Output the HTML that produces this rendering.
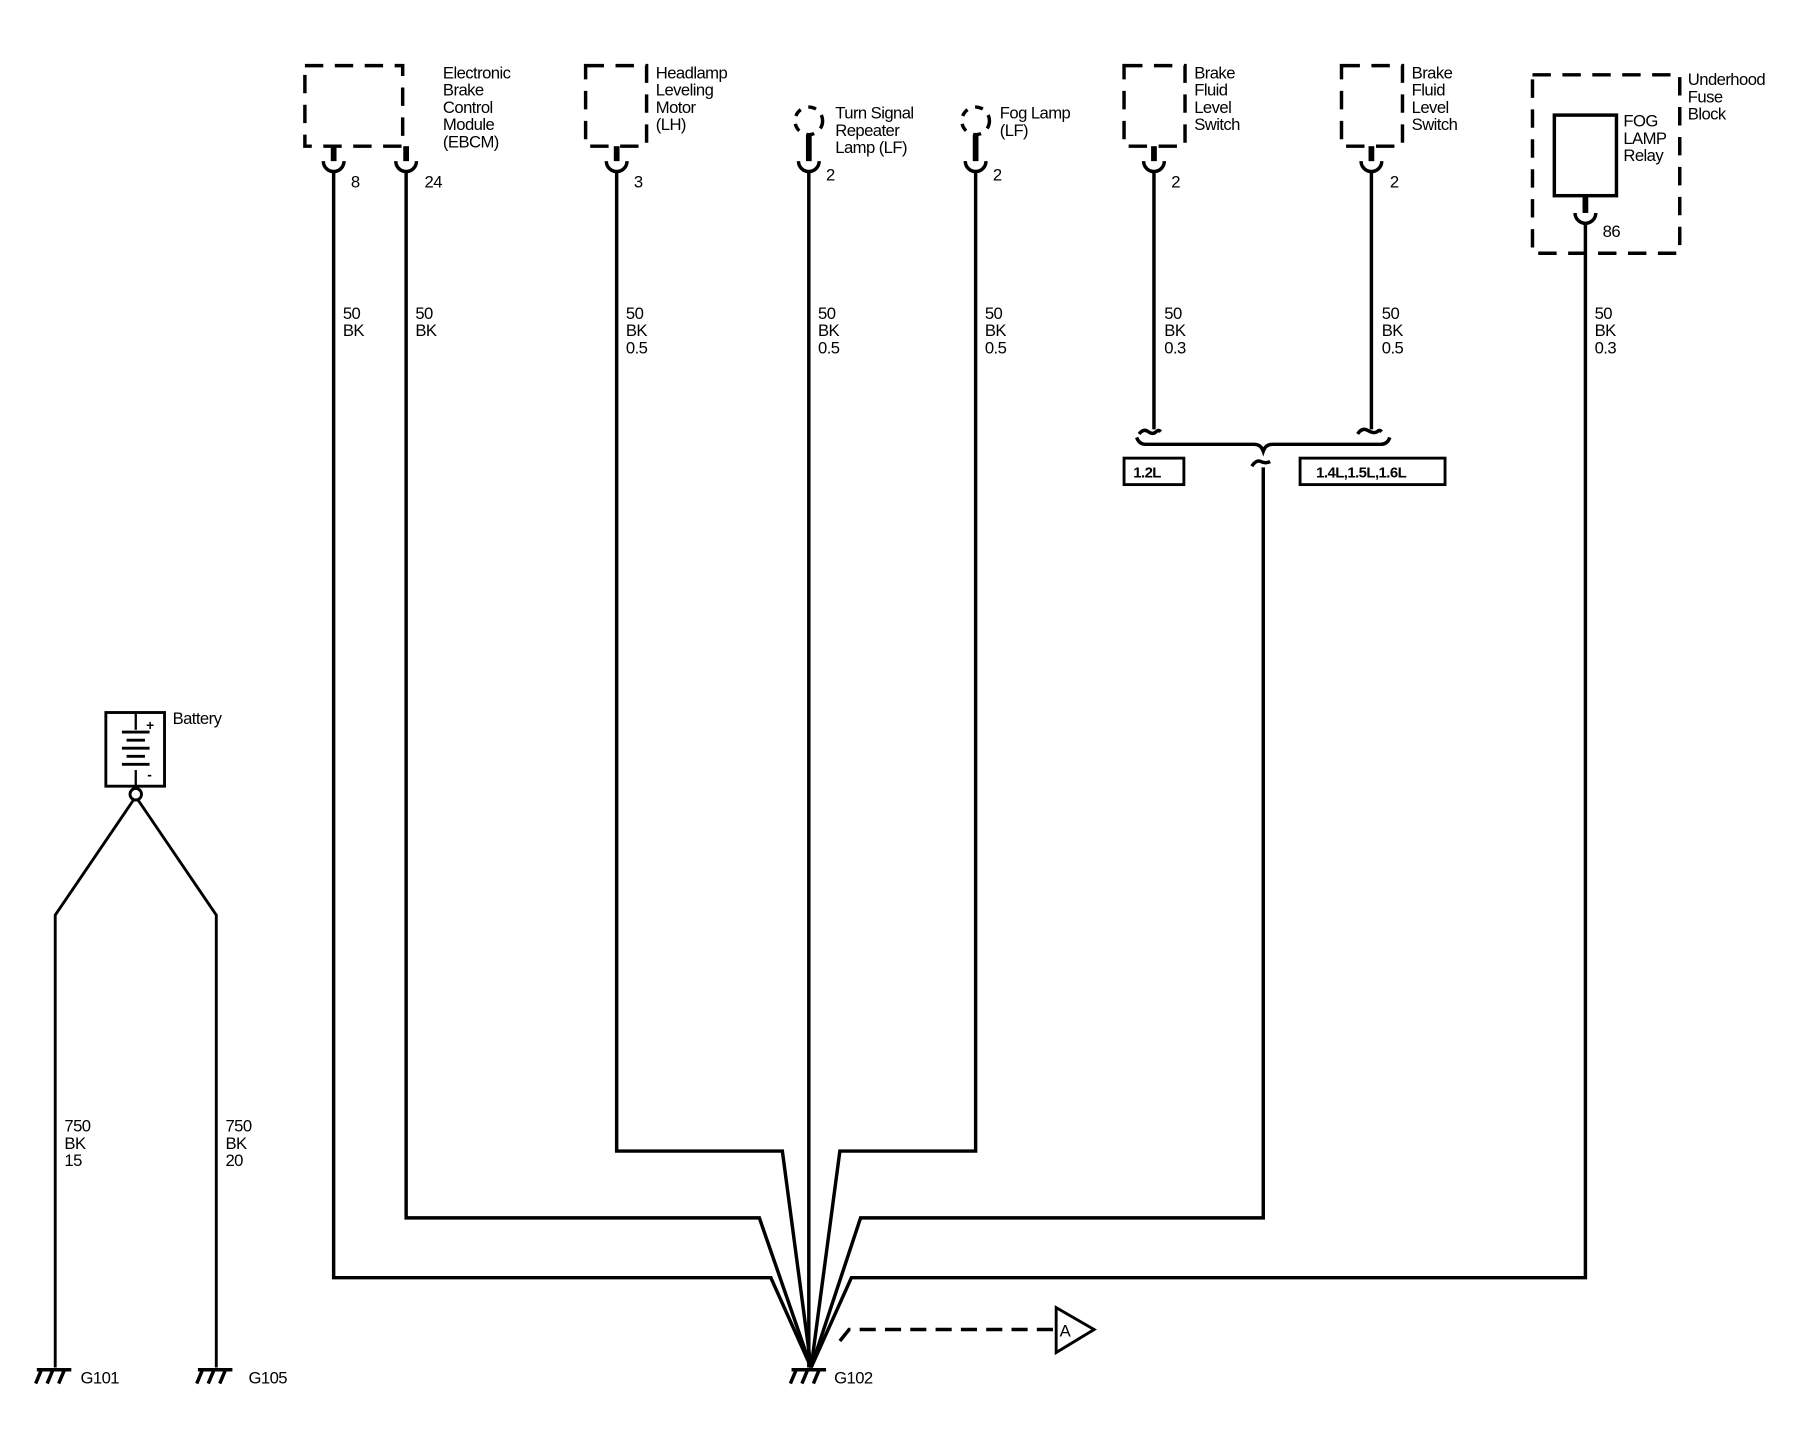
<!DOCTYPE html>
<html><head><meta charset="utf-8"><style>
html,body{margin:0;padding:0;background:#fff;}
svg{display:block;}
text{font-family:"Liberation Sans",sans-serif;font-size:14.5px;fill:#000;letter-spacing:-0.5px;}
</style></head><body>
<svg width="1804" height="1440" viewBox="0 0 1568 1251" preserveAspectRatio="none" xmlns="http://www.w3.org/2000/svg">
<g fill="none" stroke="#000" stroke-width="3">
<g stroke-dasharray="16,10" stroke-width="3">
<rect x="265" y="57" width="85" height="70"/>
<rect x="509" y="57" width="53" height="70"/>
<rect x="977" y="57" width="53" height="70"/>
<rect x="1166" y="57" width="53" height="70"/>
<rect x="1332" y="65" width="128" height="155"/>
</g>
<g stroke-dasharray="7,7" stroke-width="3">
<circle cx="703" cy="105" r="12"/>
<circle cx="848" cy="105" r="12"/>
</g>
<rect x="1351" y="100" width="54" height="70" stroke-width="3"/>
<g stroke-width="5">
<line x1="290" y1="127" x2="290" y2="140"/><line x1="353" y1="127" x2="353" y2="140"/>
<line x1="536" y1="127" x2="536" y2="140"/><line x1="703" y1="117" x2="703" y2="140"/>
<line x1="848" y1="117" x2="848" y2="140"/><line x1="1003" y1="127" x2="1003" y2="140"/>
<line x1="1192" y1="127" x2="1192" y2="140"/><line x1="1378" y1="170" x2="1378" y2="185"/>
</g>
<g stroke-width="3">
<path d="M281 140 A9 9 0 0 0 299 140"/><path d="M344 140 A9 9 0 0 0 362 140"/>
<path d="M527 140 A9 9 0 0 0 545 140"/><path d="M694 140 A9 9 0 0 0 712 140"/>
<path d="M839 140 A9 9 0 0 0 857 140"/><path d="M994 140 A9 9 0 0 0 1012 140"/>
<path d="M1183 140 A9 9 0 0 0 1201 140"/><path d="M1369 185 A9 9 0 0 0 1387 185"/>
</g>
<polyline points="290,149 290,1110 670,1110 705,1188"/>
<polyline points="353,149 353,1058 660,1058 705,1188"/>
<polyline points="536,149 536,1000 680,1000 705,1188"/>
<polyline points="703,149 703,1188"/>
<polyline points="848,149 848,1000 730,1000 705,1188"/>
<polyline points="1378,194 1378,1110 740,1110 705,1188"/>
<polyline points="1098,406 1098,1058 748,1058 705,1188"/>
<line x1="1003" y1="149" x2="1003" y2="373"/>
<line x1="1192" y1="149" x2="1192" y2="373"/>
<path d="M990 377 q4 -5 8 -2 q4 3 7 0 q2 -2 4 0"/>
<path d="M1180 377 q4 -6 9 -3 q5 3 8 1 q2 -2 4 0"/>
<path d="M988 380 q2 6 8 6 L1090 386 q6 0 8 6 q2 -6 8 -6 L1200 386 q6 0 8 -6"/>
<path d="M1088 405 q4 -6 8 -4 q4 2 8 0"/>
<rect x="977" y="398" width="52" height="23" stroke-width="2.5"/>
<rect x="1130" y="398" width="126" height="23" stroke-width="2.5"/>
<rect x="92" y="619" width="51" height="64" stroke-width="2.5"/>
<line x1="118" y1="619" x2="118" y2="634" stroke-width="2"/>
<line x1="118" y1="669" x2="118" y2="684" stroke-width="2"/>
<g stroke-width="2.5"><line x1="106" y1="636" x2="130" y2="636"/><line x1="110" y1="643" x2="126" y2="643"/><line x1="106" y1="650" x2="130" y2="650"/><line x1="110" y1="657" x2="126" y2="657"/><line x1="106" y1="664" x2="130" y2="664"/></g>
<circle cx="118" cy="690" r="5" stroke-width="2.5"/>
<polyline points="116,695 48,795 48,1188" stroke-width="2.5"/>
<polyline points="120,695 188,795 188,1188" stroke-width="2.5"/>
<g stroke-width="3">
<line x1="32" y1="1190" x2="62" y2="1190"/><line x1="36" y1="1190" x2="31" y2="1202"/><line x1="46" y1="1190" x2="41" y2="1202"/><line x1="56" y1="1190" x2="51" y2="1202"/>
<line x1="172" y1="1190" x2="202" y2="1190"/><line x1="176" y1="1190" x2="171" y2="1202"/><line x1="186" y1="1190" x2="181" y2="1202"/><line x1="196" y1="1190" x2="191" y2="1202"/>
<line x1="688" y1="1190" x2="718" y2="1190"/><line x1="692" y1="1190" x2="687" y2="1202"/><line x1="702" y1="1190" x2="697" y2="1202"/><line x1="712" y1="1190" x2="707" y2="1202"/>
</g>
<polyline points="730,1165 738,1155 918,1155" stroke-dasharray="14,8"/>
<polygon points="918,1136 918,1175 951,1155" stroke-width="2.5"/>
</g>
<g>
<text x="385" y="68">Electronic</text><text x="385" y="83">Brake</text><text x="385" y="98">Control</text><text x="385" y="113">Module</text><text x="385" y="128">(EBCM)</text>
<text x="570" y="68">Headlamp</text><text x="570" y="83">Leveling</text><text x="570" y="98">Motor</text><text x="570" y="113">(LH)</text>
<text x="726" y="103">Turn Signal</text><text x="726" y="118">Repeater</text><text x="726" y="133">Lamp (LF)</text>
<text x="869" y="103">Fog Lamp</text><text x="869" y="118">(LF)</text>
<text x="1038" y="68">Brake</text><text x="1038" y="83">Fluid</text><text x="1038" y="98">Level</text><text x="1038" y="113">Switch</text>
<text x="1227" y="68">Brake</text><text x="1227" y="83">Fluid</text><text x="1227" y="98">Level</text><text x="1227" y="113">Switch</text>
<text x="1467" y="74">Underhood</text><text x="1467" y="89">Fuse</text><text x="1467" y="104">Block</text>
<text x="1411" y="110">FOG</text><text x="1411" y="125">LAMP</text><text x="1411" y="140">Relay</text>
<text x="305" y="163">8</text><text x="369" y="163">24</text><text x="551" y="163">3</text><text x="718" y="157">2</text><text x="863" y="157">2</text><text x="1018" y="163">2</text><text x="1208" y="163">2</text><text x="1393" y="206">86</text>
<text x="298" y="277">50</text><text x="298" y="292">BK</text>
<text x="361" y="277">50</text><text x="361" y="292">BK</text>
<text x="544" y="277">50</text><text x="544" y="292">BK</text><text x="544" y="307">0.5</text>
<text x="711" y="277">50</text><text x="711" y="292">BK</text><text x="711" y="307">0.5</text>
<text x="856" y="277">50</text><text x="856" y="292">BK</text><text x="856" y="307">0.5</text>
<text x="1012" y="277">50</text><text x="1012" y="292">BK</text><text x="1012" y="307">0.3</text>
<text x="1201" y="277">50</text><text x="1201" y="292">BK</text><text x="1201" y="307">0.5</text>
<text x="1386" y="277">50</text><text x="1386" y="292">BK</text><text x="1386" y="307">0.3</text>
<text x="56" y="983">750</text><text x="56" y="998">BK</text><text x="56" y="1013">15</text>
<text x="196" y="983">750</text><text x="196" y="998">BK</text><text x="196" y="1013">20</text>
<text x="150" y="629">Battery</text>
<text x="127" y="634" style="font-size:12px;font-weight:bold">+</text><text x="128" y="677" style="font-size:12px;font-weight:bold">-</text>
<text x="985" y="415" style="font-weight:bold;font-size:13px">1.2L</text>
<text x="1144" y="415" style="font-weight:bold;font-size:13px">1.4L,1.5L,1.6L</text>
<text x="70" y="1202">G101</text><text x="216" y="1202">G105</text><text x="725" y="1202">G102</text>
<text x="921" y="1161">A</text>
</g>
</svg>
</body></html>
